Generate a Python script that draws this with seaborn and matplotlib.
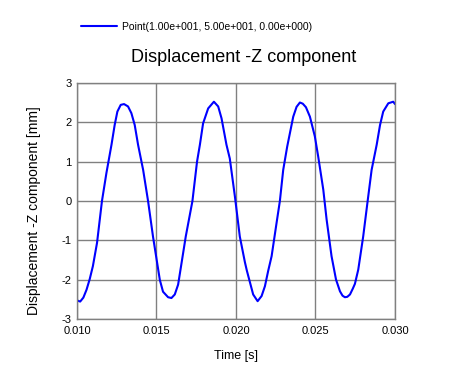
import numpy as np
import pandas as pd
import matplotlib
matplotlib.use("Agg")
import matplotlib.pyplot as plt
import seaborn as sns

# values
time_s = [0.0100, 0.0102, 0.0104, 0.0106, 0.0108, 0.0110, 0.01126, 0.01157, 0.01185,
          0.01217, 0.01237, 0.01254, 0.01275, 0.01296, 0.01321, 0.01342, 0.01363, 0.01384,
          0.01416, 0.01447, 0.01478, 0.0151, 0.01521, 0.01541, 0.01573, 0.01594, 0.01615,
          0.01636, 0.01651, 0.01684, 0.01726, 0.01755, 0.01773, 0.01793, 0.01825, 0.01861,
          0.01888, 0.01909, 0.0194, 0.01961, 0.01993, 0.02024, 0.02056, 0.02068, 0.02087,
          0.02108, 0.02136, 0.02161, 0.02182, 0.02202, 0.02224, 0.02255, 0.02276, 0.02297,
          0.02322, 0.0236, 0.02381, 0.02402, 0.0242, 0.0244, 0.02465, 0.02496, 0.02517,
          0.02549, 0.0257, 0.02601, 0.02629, 0.02654, 0.0267, 0.02685, 0.0270, 0.02717,
          0.02735, 0.02748, 0.02769, 0.0280, 0.02828, 0.02853, 0.02885, 0.02906, 0.02926,
          0.02958, 0.02989, 0.0300]
disp_z = [-2.52, -2.55, -2.45, -2.25, -1.98, -1.65, -1.06, 0.0, 0.71,
          1.43, 1.93, 2.27, 2.44, 2.46, 2.40, 2.23, 1.93, 1.43,
          0.79, 0.0, -0.9, -1.72, -2.00, -2.30, -2.44, -2.46, -2.37,
          -2.12, -1.74, -0.9, 0.0, 1.0, 1.43, 1.97, 2.35, 2.52,
          2.40, 2.10, 1.43, 1.08, 0.12, -0.9, -1.55, -1.76, -2.05,
          -2.37, -2.54, -2.41, -2.16, -1.78, -1.40, -0.56, 0.0, 0.79,
          1.38, 2.14, 2.39, 2.50, 2.47, 2.38, 2.14, 1.64, 1.13,
          0.29, -0.47, -1.40, -1.99, -2.29, -2.40, -2.44, -2.43, -2.37,
          -2.22, -2.10, -1.74, -0.9, 0.0, 0.79, 1.43, 1.93, 2.27,
          2.48, 2.52, 2.46]
x_ticks = [0.010, 0.015, 0.020, 0.025, 0.030]
y_ticks = [-3, -2, -1, 0, 1, 2, 3]
series_name = "Point(1.00e+001, 5.00e+001, 0.00e+000)"

df = pd.DataFrame({"t": time_s, "z": disp_z})

sns.set_theme(style="whitegrid")
plt.rcParams["font.family"] = ["Liberation Sans", "DejaVu Sans"]
plt.rcParams["text.color"] = "black"
plt.rcParams["axes.labelcolor"] = "black"

fig = plt.figure(figsize=(4.63, 3.76), dpi=100)
ax = fig.add_axes([0.1663, 0.1508, 0.6868, 0.629])

sns.lineplot(data=df, x="t", y="z", color="#0000ff", linewidth=1.5, ax=ax, label=series_name)
ax.lines[0].set_solid_joinstyle("round")

ax.set_xlim(0.010, 0.030)
ax.set_ylim(-3, 3)
ax.set_xticks(x_ticks)
ax.set_xticklabels([f"{v:.3f}" for v in x_ticks])
ax.set_yticks(y_ticks)
ax.set_yticklabels([str(v) for v in y_ticks])
ax.tick_params(length=0, labelsize=8, colors="black")
ax.tick_params(axis="x", pad=5)
ax.tick_params(axis="y", pad=4)
ax.grid(True, color="#808080", linewidth=1)
for s in ax.spines.values():
    s.set_visible(True)
    s.set_color("#808080")
    s.set_linewidth(1)

ax.set_xlabel("Time [s]", fontsize=9, labelpad=10, color="black")
ax.set_ylabel("Displacement -Z component [mm]", fontsize=10, color="black")
ax.yaxis.set_label_coords(-0.114, 0.458)

handles, labels = ax.get_legend_handles_labels()
ax.get_legend().remove()
fig.legend(handles, labels, loc="center left", bbox_to_anchor=(0.155, 0.928),
           frameon=False, fontsize=7.5, handlelength=3.4, handletextpad=0.5,
           labelcolor="black")

fig.text(0.527, 0.846, "Displacement -Z component", ha="center", va="center",
         fontsize=13, color="black")

fig.savefig("out.png", dpi=100, facecolor="white")
